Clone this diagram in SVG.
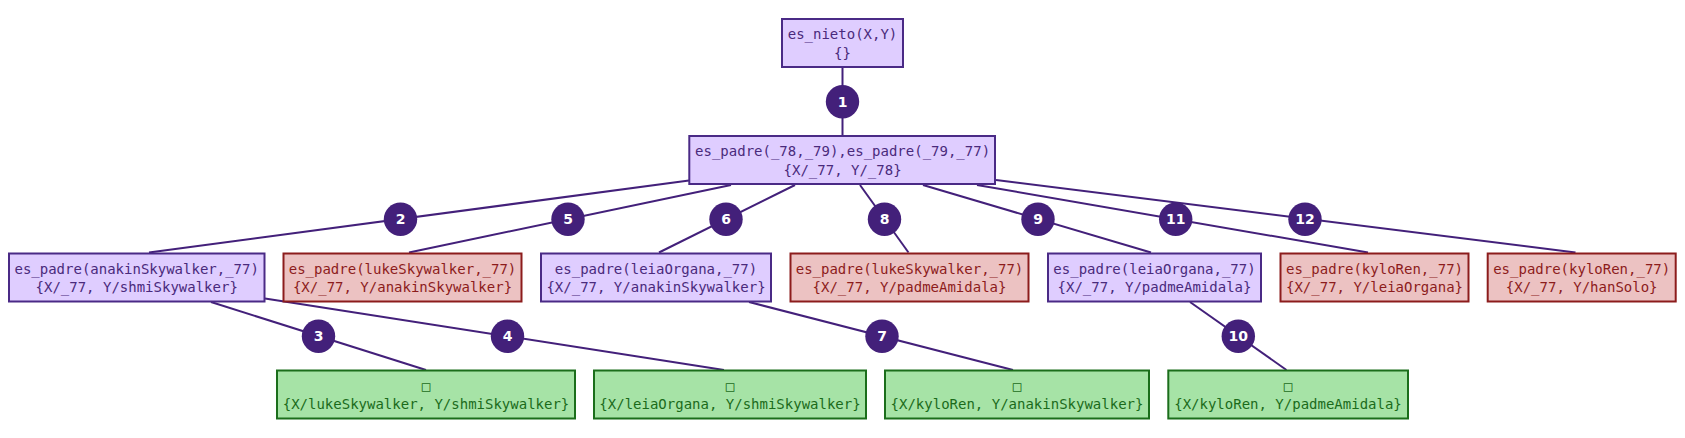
<svg xmlns="http://www.w3.org/2000/svg" width="1685" height="438" viewBox="0 0 1685 438">
<style>
.n rect{stroke-width:2}
.p rect{fill:#dfcdff;stroke:#4a2a86}
.p text{fill:#4a2a7c}
.r rect{fill:#ecc2c2;stroke:#8c1c1c}
.r text{fill:#8c1c1c}
.g rect{fill:#a6e3a6;stroke:#1b6e1b}
.g text{fill:#1b6b1b}
.n text{font-family:"DejaVu Sans Mono","Liberation Mono",monospace;font-size:14px;text-anchor:middle}
#edges line{stroke:#43207a;stroke-width:2}
#edges circle{fill:#43207a}
#edges text{fill:#fff;font-family:"DejaVu Sans","Liberation Sans",sans-serif;font-weight:bold;font-size:14px;text-anchor:middle}
</style>
<rect width="1685" height="438" fill="#fff"/>
<g id="edges">
<line x1="842.5" y1="68" x2="842.5" y2="135"/>
<line x1="689" y1="180.5" x2="149" y2="252.5"/>
<line x1="731" y1="185" x2="409" y2="252.5"/>
<line x1="795" y1="185" x2="659" y2="252.5"/>
<line x1="860" y1="185" x2="908.5" y2="252.5"/>
<line x1="923" y1="185" x2="1151" y2="252.5"/>
<line x1="977" y1="185" x2="1368" y2="252.5"/>
<line x1="996" y1="180" x2="1575.5" y2="252.5"/>
<line x1="211" y1="302" x2="426" y2="370"/>
<line x1="265" y1="298.5" x2="724" y2="370"/>
<line x1="749" y1="302" x2="1013" y2="370"/>
<line x1="1190" y1="302" x2="1286.5" y2="370"/>
<circle cx="842.5" cy="101.7" r="16.7"/><text x="842.5" y="106.7">1</text>
<circle cx="400.5" cy="219.2" r="16.7"/><text x="400.5" y="224.2">2</text>
<circle cx="318.5" cy="336.2" r="16.7"/><text x="318.5" y="341.2">3</text>
<circle cx="507.5" cy="336.2" r="16.7"/><text x="507.5" y="341.2">4</text>
<circle cx="568" cy="219.2" r="16.7"/><text x="568" y="224.2">5</text>
<circle cx="726" cy="219.2" r="16.7"/><text x="726" y="224.2">6</text>
<circle cx="882" cy="336.2" r="16.7"/><text x="882" y="341.2">7</text>
<circle cx="884.5" cy="219.2" r="16.7"/><text x="884.5" y="224.2">8</text>
<circle cx="1038" cy="219.2" r="16.7"/><text x="1038" y="224.2">9</text>
<circle cx="1238.3" cy="336.2" r="16.7"/><text x="1238.3" y="341.2">10</text>
<circle cx="1175.7" cy="219.2" r="16.7"/><text x="1175.7" y="224.2">11</text>
<circle cx="1305" cy="219.2" r="16.7"/><text x="1305" y="224.2">12</text>
</g>
<g id="n0" class="n p"><rect x="782" y="19" width="121" height="48"/><text x="842.5" y="39">es_nieto(X,Y)</text><text x="842.5" y="57.5">{}</text></g>
<g id="n1" class="n p"><rect x="689.3" y="136" width="305.7" height="48"/><text x="842.6" y="156">es_padre(_78,_79),es_padre(_79,_77)</text><text x="842.6" y="174.5">{X/_77, Y/_78}</text></g>
<g id="n2" class="n p"><rect x="9" y="253.5" width="255.5" height="48"/><text x="136.7" y="273.5">es_padre(anakinSkywalker,_77)</text><text x="136.7" y="292">{X/_77, Y/shmiSkywalker}</text></g>
<g id="n3" class="n r"><rect x="283.5" y="253.5" width="238" height="48"/><text x="402.5" y="273.5">es_padre(lukeSkywalker,_77)</text><text x="402.5" y="292">{X/_77, Y/anakinSkywalker}</text></g>
<g id="n4" class="n p"><rect x="541" y="253.5" width="230" height="48"/><text x="656" y="273.5">es_padre(leiaOrgana,_77)</text><text x="656" y="292">{X/_77, Y/anakinSkywalker}</text></g>
<g id="n5" class="n r"><rect x="790.5" y="253.5" width="238" height="48"/><text x="909.5" y="273.5">es_padre(lukeSkywalker,_77)</text><text x="909.5" y="292">{X/_77, Y/padmeAmidala}</text></g>
<g id="n6" class="n p"><rect x="1048" y="253.5" width="213" height="48"/><text x="1154.5" y="273.5">es_padre(leiaOrgana,_77)</text><text x="1154.5" y="292">{X/_77, Y/padmeAmidala}</text></g>
<g id="n7" class="n r"><rect x="1280.5" y="253.5" width="188" height="48"/><text x="1374.5" y="273.5">es_padre(kyloRen,_77)</text><text x="1374.5" y="292">{X/_77, Y/leiaOrgana}</text></g>
<g id="n8" class="n r"><rect x="1487.7" y="253.5" width="188" height="48"/><text x="1581.7" y="273.5">es_padre(kyloRen,_77)</text><text x="1581.7" y="292">{X/_77, Y/hanSolo}</text></g>
<g id="n9" class="n g"><rect x="277" y="370.5" width="298" height="48"/><text x="426" y="390.5">□</text><text x="426" y="409">{X/lukeSkywalker, Y/shmiSkywalker}</text></g>
<g id="n10" class="n g"><rect x="594" y="370.5" width="272" height="48"/><text x="730" y="390.5">□</text><text x="730" y="409">{X/leiaOrgana, Y/shmiSkywalker}</text></g>
<g id="n11" class="n g"><rect x="885" y="370.5" width="264" height="48"/><text x="1017" y="390.5">□</text><text x="1017" y="409">{X/kyloRen, Y/anakinSkywalker}</text></g>
<g id="n12" class="n g"><rect x="1168.3" y="370.5" width="239.7" height="48"/><text x="1288" y="390.5">□</text><text x="1288" y="409">{X/kyloRen, Y/padmeAmidala}</text></g>
</svg>
